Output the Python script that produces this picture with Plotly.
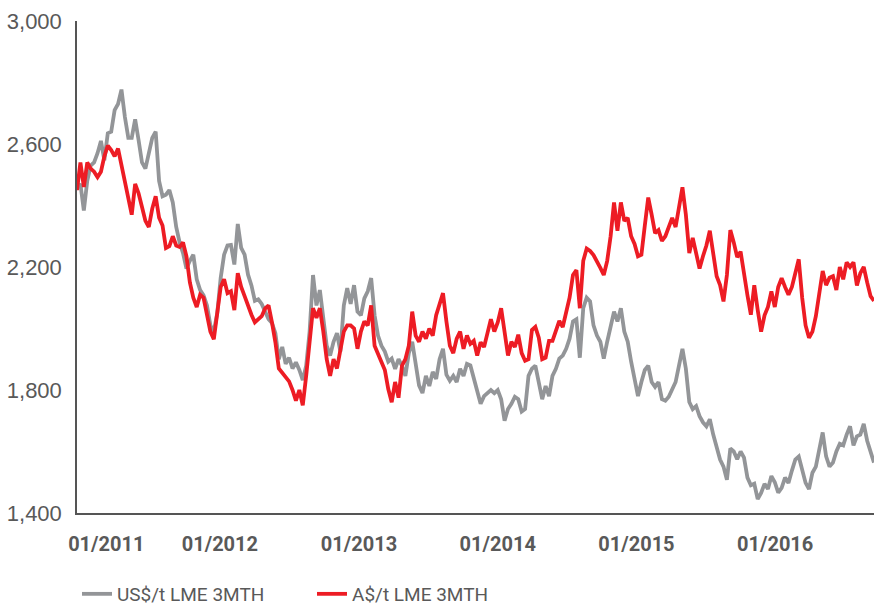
import pandas as pd
import plotly.graph_objects as go

# Sampling dates (every 9 days from late Dec 2010 to mid Sep 2016)
dates = pd.date_range("2010-12-21", periods=234, freq="9D")

us_lme = [
    2460, 2470, 2384, 2480, 2530, 2540, 2570, 2610, 2547, 2635,
    2640, 2710, 2730, 2777, 2688, 2620, 2620, 2680, 2613, 2540,
    2520, 2570, 2620, 2640, 2480, 2430, 2435, 2450, 2410, 2330,
    2280, 2245, 2195, 2220, 2240, 2160, 2125, 2108, 2075, 2010,
    1990, 2050, 2164, 2240, 2270, 2272, 2208, 2340, 2262, 2240,
    2175, 2140, 2090, 2095, 2080, 2055, 2030, 2018, 1985, 1900,
    1940, 1885, 1905, 1870, 1890, 1865, 1832, 1879, 1990, 2174,
    2075, 2125, 2043, 1944, 1912, 1957, 1985, 1925, 2075, 2131,
    2080, 2141, 2055, 2043, 2098, 2121, 2164, 2043, 1977, 1944,
    1925, 1892, 1902, 1869, 1900, 1879, 1846, 1920, 1957, 1880,
    1815, 1790, 1846, 1813, 1859, 1836, 1900, 1934, 1850, 1830,
    1846, 1826, 1869, 1846, 1885, 1880, 1840, 1793, 1755, 1780,
    1790, 1800, 1790, 1800, 1770, 1700, 1738, 1755, 1778, 1770,
    1730, 1738, 1846, 1869, 1879, 1826, 1770, 1813, 1780, 1846,
    1869, 1902, 1912, 1934, 1967, 2023, 2030, 1905, 2066, 2100,
    2088, 2010, 1977, 1957, 1902, 1957, 2000, 2055, 2023, 2066,
    1990, 1957, 1892, 1840, 1780, 1826, 1865, 1879, 1826, 1810,
    1826, 1770, 1765, 1778, 1800, 1826, 1880, 1934, 1869, 1761,
    1738, 1748, 1715, 1695, 1682, 1705, 1655, 1615, 1574, 1551,
    1508, 1610, 1600, 1575, 1600, 1580, 1515, 1490, 1495, 1445,
    1465, 1495, 1478, 1520, 1500, 1466, 1482, 1515, 1498, 1538,
    1574, 1584, 1541, 1498, 1478, 1531, 1551, 1607, 1662, 1584,
    1551, 1564, 1600, 1625, 1620, 1655, 1682, 1620, 1649, 1655,
    1690, 1635, 1595, 1564,
]

aud_lme = [
    2450, 2540, 2460, 2540, 2520, 2510, 2492, 2510, 2560, 2595,
    2580, 2560, 2585, 2530, 2480, 2420, 2370, 2470, 2440, 2395,
    2350, 2330, 2390, 2430, 2360, 2335, 2262, 2268, 2300, 2270,
    2265, 2280, 2235, 2150, 2100, 2070, 2110, 2100, 2050, 1990,
    1965, 2040, 2135, 2160, 2115, 2121, 2060, 2180, 2135, 2105,
    2070, 2045, 2020, 2030, 2040, 2065, 2075, 2020, 1955, 1870,
    1855, 1840, 1828, 1800, 1765, 1800, 1750, 1846, 1960, 2066,
    2035, 2066, 1990, 1900, 1846, 1900, 1870, 1925, 1990, 2010,
    2010, 2000, 1934, 1990, 2023, 2010, 2075, 1944, 1920, 1892,
    1865, 1803, 1760, 1826, 1775, 1879, 1900, 1944, 2055, 1977,
    1957, 1990, 1967, 2000, 1977, 2043, 2080, 2115, 2023, 1944,
    1920, 1967, 1990, 1934, 1977, 1950, 1960, 1912, 1955, 1940,
    1985, 2030, 1990, 2020, 2066, 1977, 1912, 1957, 1940, 1980,
    1920, 1895, 1900, 1995, 2005, 1970, 1900, 1905, 1960, 1960,
    1995, 2025, 2005, 2050, 2100, 2174, 2190, 2066, 2220, 2260,
    2252, 2239, 2220, 2197, 2174, 2220, 2300, 2410, 2318, 2410,
    2350, 2360, 2300, 2275, 2235, 2240, 2335, 2426, 2370, 2310,
    2320, 2285, 2300, 2330, 2360, 2330, 2400, 2459, 2370, 2245,
    2295, 2239, 2195, 2235, 2270, 2318, 2252, 2170, 2141, 2088,
    2174, 2320, 2280, 2232, 2250, 2170, 2108, 2045, 2141, 2060,
    1990, 2043, 2070, 2121, 2070, 2135, 2164, 2135, 2110, 2135,
    2185, 2225, 2100, 2010, 1970, 1990, 2040, 2125, 2187, 2141,
    2165, 2170, 2125, 2200, 2160, 2215, 2200, 2215, 2140, 2180,
    2200, 2150, 2105, 2090,
]

series_names = ["US$/t LME 3MTH", "A$/t LME 3MTH"]
tick_dates = ["2011-03-08", "2012-01-01", "2013-01-01", "2014-01-01", "2015-01-01", "2016-01-01"]
tick_labels = ["01/2011", "01/2012", "01/2013", "01/2014", "01/2015", "01/2016"]
y_ticks = [1400, 1800, 2200, 2600, 3000]

GREY = "#939598"
RED = "#ED1C24"
AXIS = "#595959"

fig = go.Figure()
fig.add_trace(go.Scatter(x=dates, y=us_lme, mode="lines", name=series_names[0],
                         line=dict(color=GREY, width=3.8)))
fig.add_trace(go.Scatter(x=dates, y=aud_lme, mode="lines", name=series_names[1],
                         line=dict(color=RED, width=3.8)))

fig.update_layout(
    width=874, height=605,
    margin=dict(l=77, r=0, t=21, b=92, autoexpand=False),
    paper_bgcolor="white", plot_bgcolor="white",
    showlegend=True,
    legend=dict(orientation="h", x=0.0, xanchor="left", y=-0.126, yanchor="top",
                font=dict(family="Roboto", size=19, color=AXIS),
                entrywidth=190, entrywidthmode="pixels", tracegroupgap=0),
)
fig.update_xaxes(
    type="date", range=[dates[0], dates[-1]], automargin=False,
    showgrid=False, zeroline=False, showline=True, linecolor="#555555", linewidth=1.5,
    ticks="", tickmode="array", tickvals=tick_dates, ticktext=tick_labels,
    tickfont=dict(family="Roboto", size=20, color=AXIS, weight="bold"),
    ticklabelstandoff=12,
)
fig.update_yaxes(
    range=[1400, 3000], automargin=False, showgrid=False, zeroline=False, showline=True,
    linecolor="#555555", linewidth=1.5, ticks="",
    tickmode="array", tickvals=y_ticks, tickformat=",",
    tickfont=dict(family="Liberation Sans", size=22, color=AXIS),
    ticklabelstandoff=9,
)

fig.write_html(
    "out.html",
    config={"displayModeBar": False},
    post_script="document.body.style.margin='0';document.body.style.overflow='hidden';",
)
